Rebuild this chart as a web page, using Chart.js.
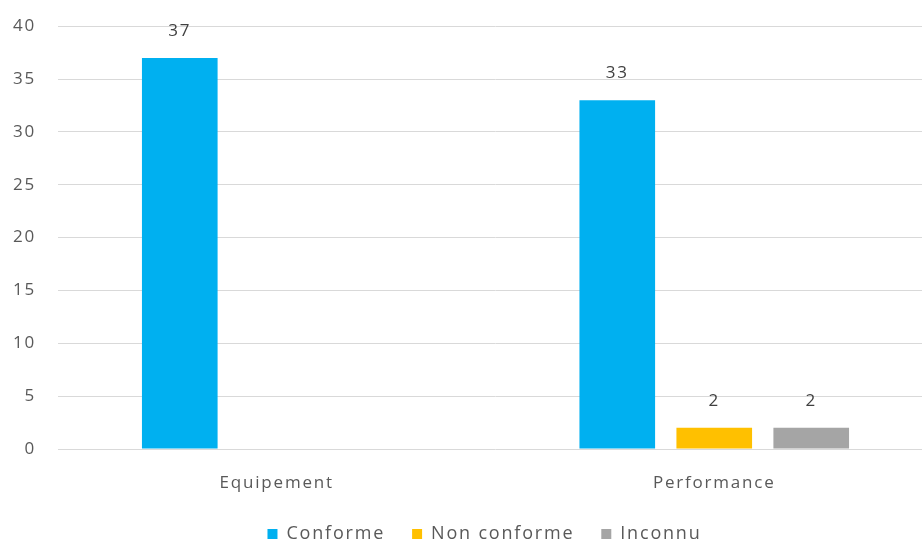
<!DOCTYPE html>
<html>
<head>
<meta charset="utf-8">
<script src="https://cdn.jsdelivr.net/npm/chart.js@4"></script>
<style>
  html, body { margin: 0; padding: 0; background: #fff; overflow: hidden; }
  /* plot runs a little past the right edge in the reference */
  #wrap { width: 933px; height: 541px; }
</style>
</head>
<body>
<div id="wrap"><canvas id="chart"></canvas></div>
<script>
const categories = ['Equipement', 'Performance'];
const conforme = [37, 33];
const nonConforme = [null, 2];
const inconnu = [null, 2];
const yTicks = [0, 5, 10, 15, 20, 25, 30, 35, 40];

const FONT = "'Open Sans', 'Noto Sans', sans-serif";
const SPACING = '1.8px';
const LEGEND_PAD = 27;
const LEGEND_SIZE = 18;

// the reference text is set quite wide, so add a bit of tracking
const tracking = {
    id: 'tracking',
    beforeUpdate(chart) { chart.ctx.letterSpacing = SPACING; },
    beforeDraw(chart) { chart.ctx.letterSpacing = SPACING; }
};

// nudge legend, y labels and x label area into the reference's places
const placeBoxes = {
    id: 'placeBoxes',
    afterLayout(chart) {
        const lg = chart.legend;
        const h = lg.bottom - lg.top;
        lg.top = 534 - LEGEND_PAD - LEGEND_SIZE / 2;
        lg.bottom = lg.top + h;
        lg.left += 18;
        lg.right += 18;
        chart.scales.y.right -= 6;
        chart.scales.x.bottom += 30;
    }
};

// draw the value above each bar
const valueLabels = {
    id: 'valueLabels',
    afterDatasetsDraw(chart) {
        const ctx = chart.ctx;
        ctx.save();
        ctx.letterSpacing = SPACING;
        ctx.font = '17px ' + FONT;
        ctx.fillStyle = '#404040';
        ctx.textAlign = 'center';
        ctx.textBaseline = 'middle';
        chart.data.datasets.forEach((ds, i) => {
            const meta = chart.getDatasetMeta(i);
            meta.data.forEach((bar, j) => {
                const v = ds.data[j];
                if (v === null || v === undefined) return;
                ctx.fillText(String(v), bar.x, bar.y - 27);
            });
        });
        ctx.restore();
    }
};

new Chart(document.getElementById('chart'), {
    type: 'bar',
    data: {
        labels: categories,
        datasets: [
            { label: 'Conforme', data: conforme, backgroundColor: '#00b0f0' },
            { label: 'Non conforme', data: nonConforme, backgroundColor: '#ffc000' },
            { label: 'Inconnu', data: inconnu, backgroundColor: '#a5a5a5' }
        ]
    },
    options: {
        responsive: true,
        maintainAspectRatio: false,
        animation: false,
        datasets: { bar: { categoryPercentage: 0.665, barPercentage: 0.78 } },
        layout: { padding: { top: 3, right: 0, left: 0, bottom: 0 } },
        plugins: {
            tooltip: { enabled: false },
            legend: {
                position: 'bottom',
                labels: {
                    boxWidth: 10,
                    boxHeight: 10,
                    padding: LEGEND_PAD,
                    color: '#595959',
                    font: { family: FONT, size: LEGEND_SIZE }
                }
            }
        },
        scales: {
            x: {
                afterFit(axis) { axis.height = 37; },
                grid: { display: false },
                border: { display: false },
                ticks: {
                    color: '#595959',
                    padding: 16,
                    font: { family: FONT, size: 17 }
                }
            },
            y: {
                min: 0,
                max: 40,
                afterBuildTicks(axis) {
                    axis.ticks = yTicks.map(v => ({ value: v }));
                },
                afterFit(axis) { axis.width = 58; },
                grid: { color: '#d9d9d9', lineWidth: 1, drawTicks: false },
                border: { display: false },
                ticks: {
                    color: '#595959',
                    padding: 16,
                    font: { family: FONT, size: 17 }
                }
            }
        }
    },
    plugins: [tracking, placeBoxes, valueLabels]
});
</script>
</body>
</html>
